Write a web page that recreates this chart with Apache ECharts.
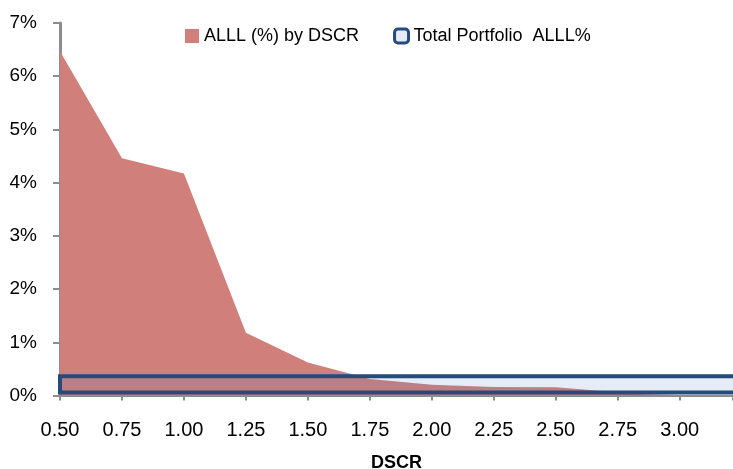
<!DOCTYPE html>
<html lang="en">
<head>
  <meta charset="UTF-8">
  <title>ALLL by DSCR</title>
  <script src="https://cdn.jsdelivr.net/npm/echarts@6/dist/echarts.min.js"></script>
  <style>
    html, body { margin: 0; padding: 0; background: #fff; }
    #chart { width: 733px; height: 469px; }
  </style>
</head>
<body>
  <div id="chart"></div>
  <script>
    // DSCR buckets and ALLL %
    const dscr = [0.50, 0.75, 1.00, 1.25, 1.50, 1.75, 2.00, 2.25, 2.50, 2.75, 3.00];
    const alllByDscr = [6.47, 4.46, 4.17, 1.18, 0.62, 0.31, 0.20, 0.16, 0.155, 0.06, 0.03];

    // total portfolio ALLL%, drawn across the whole axis range
    const portfolioRange = [0.50, 3.215];
    const portfolioAlll = 0.36;

    const yTicks = [0, 7, 1]; // min, max, step

    const font = 'Liberation Sans';
    const axisGrey = '#8c8c8c';
    const navy = '#254a7c';

    const chart = echarts.init(document.getElementById('chart'));

    chart.setOption({
      animation: false,
      backgroundColor: '#fff',
      textStyle: { fontFamily: font },
      grid: { left: 60, right: 0, top: 23, bottom: 73.5, outerBoundsMode: 'none' },
      legend: {
        left: 185,
        top: 27,
        padding: 0,
        itemWidth: 14,
        itemHeight: 14,
        itemGap: 34,
        textStyle: { fontFamily: font, fontSize: 18, color: '#000' },
        data: [
          { name: 'ALLL (%) by DSCR', icon: 'rect', itemStyle: { color: '#d17f7a' } },
          {
            name: 'Total Portfolio  ALLL%',
            icon: 'roundRect',
            itemStyle: { color: '#e4ebf6', borderColor: navy, borderWidth: 3 }
          }
        ]
      },
      xAxis: {
        type: 'value',
        min: portfolioRange[0],
        max: portfolioRange[1],
        interval: 0.25,
        name: 'DSCR',
        nameLocation: 'middle',
        nameGap: 59,
        nameTextStyle: { fontFamily: font, fontSize: 18, fontWeight: 'bold', color: '#000' },
        splitLine: { show: false },
        axisLine: { lineStyle: { color: axisGrey, width: 2 } },
        axisTick: { length: 5, lineStyle: { color: axisGrey, width: 2 } },
        axisLabel: {
          fontSize: 20,
          color: '#000',
          margin: 25,
          formatter: v => Math.abs(v * 4 - Math.round(v * 4)) < 1e-6 ? v.toFixed(2) : ''
        }
      },
      yAxis: {
        type: 'value',
        min: yTicks[0],
        max: yTicks[1],
        interval: yTicks[2],
        splitLine: { show: false },
        axisLine: { show: true, lineStyle: { color: axisGrey, width: 3 } },
        axisTick: { show: true, length: 7, lineStyle: { color: axisGrey, width: 2 } },
        axisLabel: {
          fontSize: 19,
          color: '#000',
          margin: 23,
          formatter: v => v + '%'
        }
      },
      series: [
        {
          name: 'ALLL (%) by DSCR',
          type: 'line',
          z: 2,
          data: dscr.map((d, i) => [d, alllByDscr[i]]),
          symbol: 'none',
          lineStyle: { width: 0 },
          areaStyle: { color: '#d17f7a', opacity: 1 },
          itemStyle: { color: '#d17f7a' }
        },
        {
          name: 'Total Portfolio  ALLL%',
          type: 'custom',
          z: 5,
          data: [[portfolioRange[0], portfolioRange[1], portfolioAlll]],
          encode: { x: [0, 1], y: 2 },
          itemStyle: { color: '#e4ebf6' },
          clip: false,
          renderItem: (params, api) => {
            const tl = api.coord([api.value(0), api.value(2)]);
            const br = api.coord([api.value(1), 0]);
            return {
              type: 'rect',
              z2: 10,
              shape: { x: tl[0], y: tl[1], width: br[0] - tl[0] + 6, height: br[1] - tl[1] - 3 },
              style: { fill: 'rgba(79,129,189,0.15)', stroke: navy, lineWidth: 4 }
            };
          }
        }
      ]
    });
  </script>
</body>
</html>
